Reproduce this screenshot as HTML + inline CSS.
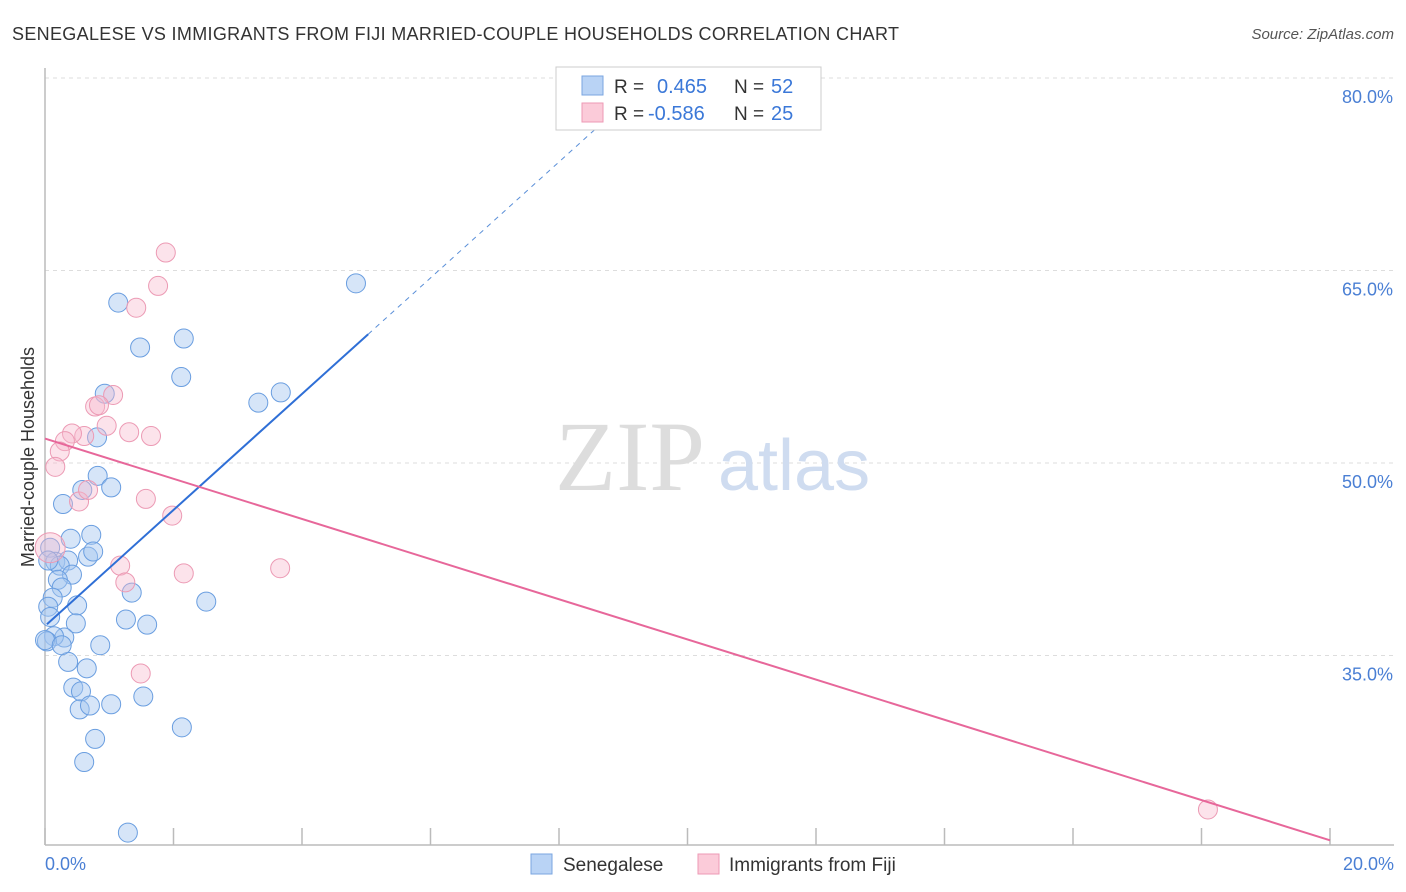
<!DOCTYPE html>
<html><head><meta charset="utf-8"><style>
body{margin:0;background:#fff;font-family:"Liberation Sans",sans-serif}
svg{display:block}
</style></head><body>
<svg width="1406" height="892" xmlns="http://www.w3.org/2000/svg" id="chart">
<text x="12" y="40" font-size="18" fill="#333" textLength="887">SENEGALESE VS IMMIGRANTS FROM FIJI MARRIED-COUPLE HOUSEHOLDS CORRELATION CHART</text>
<text x="1394" y="39" font-size="15" fill="#555" font-style="italic" text-anchor="end">Source: ZipAtlas.com</text>
<g id="grid"></g>
<text x="555" y="490" font-size="100" fill="#ddd" font-family="Liberation Serif,serif">ZIP</text>
<text x="718" y="490" font-size="72" fill="#cfdcf0">atlas</text>
<line x1="45" y1="68" x2="45" y2="845" stroke="#bbb" stroke-width="1.5"/>
<line x1="45" y1="845" x2="1394" y2="845" stroke="#bbb" stroke-width="1.5"/>
<g id="xticks"></g>
<text x="45" y="870" font-size="18" fill="#4a7fd4">0.0%</text>
<text x="1394" y="870" font-size="18" fill="#4a7fd4" text-anchor="end">20.0%</text>
<text transform="translate(34,457) rotate(-90)" font-size="18" fill="#333" text-anchor="middle">Married-couple Households</text>
<g id="pts"></g>
<g id="lines"></g>
<g>
<rect x="556" y="67" width="265" height="63" fill="#fff" stroke="#ccc"/>
<rect x="582" y="76" width="21" height="19" fill="#b9d3f5" stroke="#7aa6e0"/>
<rect x="582" y="103" width="21" height="19" fill="#fbcbd9" stroke="#ee9ab5"/>
<text x="614" y="93" font-size="19" fill="#333">R = </text><text x="657" y="93" font-size="20" fill="#3b78d8">0.465</text>
<text x="734" y="93" font-size="19" fill="#333">N = </text><text x="771" y="93" font-size="20" fill="#3b78d8">52</text>
<text x="614" y="120" font-size="19" fill="#333">R = </text><text x="648" y="120" font-size="20" fill="#3b78d8">-0.586</text>
<text x="734" y="120" font-size="19" fill="#333">N = </text><text x="771" y="120" font-size="20" fill="#3b78d8">25</text>
</g>
<g>
<rect x="531" y="854" width="21" height="20" fill="#b9d3f5" stroke="#7aa6e0"/>
<text x="563" y="871" font-size="19" fill="#333">Senegalese</text>
<rect x="698" y="854" width="21" height="20" fill="#fbcbd9" stroke="#ee9ab5"/>
<text x="729" y="871" font-size="19" fill="#333">Immigrants from Fiji</text>
</g>
</svg>
<script>
const yTicks=[80,65,50,35];
const yTickLabels=["80.0%","65.0%","50.0%","35.0%"];
const xTicks=[0,2,4,6,8,10,12,14,16,18,20];
const blueX=[1.14,1.48,2.16,2.12,4.84,3.32,3.67,0.93,0.81,0.82,1.03,0.58,0.28,0.40,0.72,0.67,0.75,0.08,0.16,0.36,0.23,0.42,0.20,0.26,0.12,0.50,0.05,0.08,0.48,1.26,1.59,1.35,2.51,0.30,0.14,0.86,0.03,0.36,0.65,0.44,0.56,0.54,0.70,1.03,1.53,0.78,2.13,0.61,1.29,0.05,0.0,0.26];
const blueY=[62.5,59.0,59.7,56.7,64.0,54.7,55.5,55.4,52.0,49.0,48.1,47.9,46.8,44.1,44.4,42.7,43.1,43.4,42.3,42.4,42.0,41.3,40.9,40.3,39.5,38.9,38.8,38.0,37.5,37.8,37.4,39.9,39.2,36.4,36.5,35.8,36.1,34.5,34.0,32.5,32.2,30.8,31.1,31.2,31.8,28.5,29.4,26.7,21.2,42.4,36.2,35.8];
const pinkX=[1.88,1.76,1.42,1.06,0.78,0.84,0.96,1.31,1.65,0.61,0.42,0.31,0.23,0.16,0.53,0.67,1.57,1.98,1.17,1.25,2.16,3.66,1.49,18.1,0.08];
const pinkY=[66.4,63.8,62.1,55.3,54.4,54.5,52.9,52.4,52.1,52.1,52.3,51.7,50.9,49.7,47.0,47.9,47.2,45.9,42.0,40.7,41.4,41.8,33.6,23.0,43.4];
const blueLine=[37.3,4.52];   // intercept, slope
const pinkLine=[51.9,-1.565];
const NS="http://www.w3.org/2000/svg";
const xs=v=>45+v*64.25, ys=v=>78+(80-v)*12.833;
function mk(t,a,p){const e=document.createElementNS(NS,t);for(const k in a)e.setAttribute(k,a[k]);p.appendChild(e);return e;}
const grid=document.getElementById('grid');
yTicks.forEach((t,i)=>{
 const l=mk('line',{x1:45,x2:1394,y1:ys(t),y2:ys(t),stroke:'#ddd','stroke-dasharray':'4,4'},grid);
 
 
 const tx=mk('text',{x:1393,y:ys(t)+25,'font-size':18,fill:'#4a7fd4','text-anchor':'end'},grid);
 tx.textContent=yTickLabels[i];
 
 
});
const xt=document.getElementById('xticks');
xTicks.forEach(t=>{
 const l=mk('line',{x1:xs(t),x2:xs(t),y1:828,y2:845,stroke:'#bbb','stroke-width':1.5},xt);
 
 
});
const pts=document.getElementById('pts');
blueX.forEach((x,i)=>{
 const c=mk('circle',{cx:xs(x),cy:ys(blueY[i]),r:9.5,fill:'rgba(165,198,240,0.45)',stroke:'#6a9ee0','stroke-width':1},pts);
 
 
});
pinkX.forEach((x,i)=>{
 const big=i===pinkX.length-1;
 const c=mk('circle',{cx:xs(x),cy:ys(pinkY[i]),r:big?15:9.5,fill:'rgba(248,185,205,0.4)',stroke:'#ec9ab4','stroke-width':1},pts);
 
 
});
const ln=document.getElementById('lines');
const bl=x=>blueLine[0]+blueLine[1]*x, pl=x=>pinkLine[0]+pinkLine[1]*x;
const bEnd=(80-blueLine[0])/blueLine[1];
let e=mk('line',{x1:xs(5.03),y1:ys(bl(5.03)),x2:xs(bEnd),y2:ys(80),stroke:'#5a8fd8','stroke-width':1,'stroke-dasharray':'5,5'},ln);


e=mk('line',{x1:xs(0.03),y1:ys(bl(0.03)),x2:xs(5.03),y2:ys(bl(5.03)),stroke:'#2f6fd6','stroke-width':2},ln);


e=mk('line',{x1:xs(0),y1:ys(pl(0)),x2:xs(20),y2:ys(pl(20)),stroke:'#e7679a','stroke-width':2},ln);


</script>
</body></html>
